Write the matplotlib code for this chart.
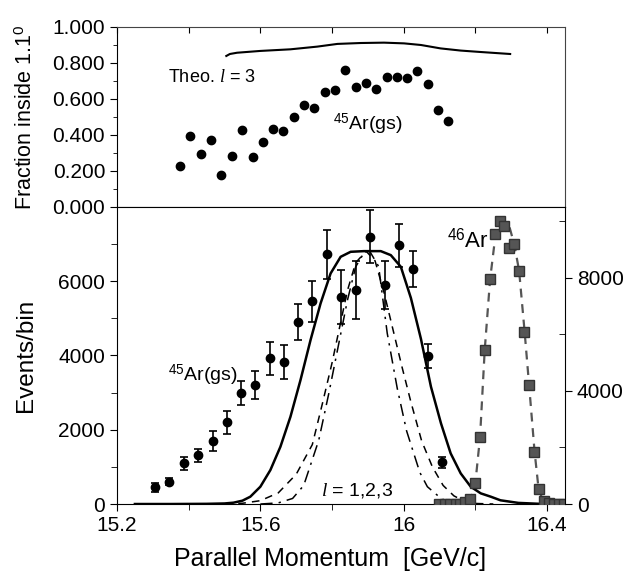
import matplotlib
matplotlib.use('Agg')
import matplotlib.pyplot as plt
from matplotlib.ticker import MultipleLocator, FixedLocator, FuncFormatter

plt.rcParams['font.family'] = ['Liberation Sans', 'DejaVu Sans']
plt.rcParams['mathtext.fontset'] = 'custom'
plt.rcParams['mathtext.rm'] = 'Liberation Sans'
plt.rcParams['mathtext.it'] = 'Liberation Serif:italic'

# --- top panel: fraction inside 1.1 deg ---
frac_x = [15.376, 15.405, 15.434, 15.463, 15.491, 15.520, 15.550, 15.579, 15.608,
          15.636, 15.664, 15.693, 15.721, 15.750, 15.779, 15.807, 15.837, 15.866,
          15.894, 15.923, 15.952, 15.980, 16.009, 16.038, 16.067, 16.096, 16.124]
frac_y = [0.229, 0.393, 0.293, 0.370, 0.178, 0.285, 0.426, 0.276, 0.363,
          0.433, 0.420, 0.500, 0.565, 0.548, 0.641, 0.650, 0.761, 0.668,
          0.687, 0.656, 0.724, 0.724, 0.719, 0.757, 0.683, 0.541, 0.476]
theo_frac_x = [15.505, 15.515, 15.535, 15.600, 15.684, 15.759, 15.815, 15.880,
               15.945, 16.001, 16.048, 16.103, 16.159, 16.215, 16.297]
theo_frac_y = [0.839, 0.850, 0.857, 0.867, 0.876, 0.891, 0.906, 0.911,
               0.913, 0.909, 0.900, 0.881, 0.869, 0.861, 0.850]

# --- bottom panel: 45Ar(gs) momentum distribution ---
ar45_x = [15.306, 15.346, 15.387, 15.427, 15.468, 15.507, 15.547, 15.586, 15.627,
          15.666, 15.706, 15.745, 15.786, 15.826, 15.867, 15.907, 15.947, 15.988,
          16.027, 16.067, 16.107]
ar45_y = [450, 600, 1095, 1310, 1696, 2198, 2997, 3195, 3922, 3831, 4899, 5456,
          6721, 5581, 5760, 7196, 5895, 6963, 6334, 3992, 1122]
ar45_err = [125, 100, 170, 180, 270, 320, 320, 380, 435, 465, 490, 555, 650,
            727, 785, 718, 637, 588, 480, 320, 140]

# theory curves l = 3 (solid), l = 2 (dashed), l = 1 (dash-dot)
l3_x = [15.25, 15.35, 15.45, 15.50, 15.525, 15.55, 15.572, 15.600, 15.628, 15.656,
        15.684, 15.712, 15.740, 15.768, 15.796, 15.824, 15.852, 15.889, 15.936,
        15.964, 15.992, 16.020, 16.048, 16.076, 16.104, 16.131, 16.159, 16.187,
        16.215, 16.243, 16.27, 16.32, 16.38, 16.45]
l3_y = [0, 0, 5, 15, 36, 90, 197, 466, 915, 1543, 2351, 3338, 4415, 5402, 6210,
        6658, 6793, 6811, 6811, 6703, 6389, 5550, 4450, 3159, 2172, 1364, 825,
        466, 287, 197, 100, 30, 5, 0]
l2_x = [15.50, 15.55, 15.60, 15.65, 15.70, 15.745, 15.773, 15.80, 15.822, 15.843,
        15.866, 15.895, 15.92, 15.945, 15.97, 15.995, 16.02, 16.05, 16.08, 16.11,
        16.14, 16.17, 16.20, 16.25]
l2_y = [0, 20, 90, 300, 800, 1600, 2700, 3800, 4800, 5750, 6500, 6810, 6550,
        5700, 4700, 3700, 2750, 1700, 1000, 500, 220, 70, 15, 0]
l1_x = [15.60, 15.65, 15.69, 15.721, 15.763, 15.791, 15.819, 15.843, 15.866,
        15.89, 15.905, 15.93, 15.954, 15.982, 16.008, 16.045, 16.066, 16.104,
        16.131, 16.16]
l1_y = [0, 30, 150, 500, 1720, 2980, 4330, 5490, 6390, 6780, 6810, 6400, 4600,
        3114, 1970, 850, 466, 152, 18, 0]

# --- 46Ar unreacted beam (right axis) ---
ar46_x = [16.099, 16.115, 16.130, 16.146, 16.158, 16.172, 16.185, 16.199, 16.213,
          16.226, 16.240, 16.254, 16.268, 16.281, 16.295, 16.309, 16.322, 16.336,
          16.350, 16.364, 16.377, 16.391, 16.405, 16.419, 16.432, 16.446]
ar46_y = [0, 0, 0, 0, 10, 60, 190, 754, 2372, 5440, 7941, 9546, 9994, 9841, 9050,
          9180, 8224, 6088, 4212, 1852, 520, 100, 30, 10, 0, 0]
ar46_fit_x = [16.185, 16.200, 16.213, 16.226, 16.241, 16.255, 16.268, 16.282,
              16.296, 16.309, 16.322, 16.337, 16.350, 16.365, 16.376, 16.390]
ar46_fit_y = [50, 754, 2372, 5440, 7941, 9400, 9950, 10000, 9750, 9150, 8240,
              6140, 4180, 1870, 570, 50]

FS = 15      # tick labels
TFS = 14     # in-plot text

fig = plt.figure(figsize=(6.31, 5.78), dpi=100)
ax_top = fig.add_axes([0.1854, 0.6419, 0.7100, 0.3114])
ax_bot = fig.add_axes([0.1854, 0.1280, 0.7100, 0.5139])
ax_r = ax_bot.twinx()

# top panel
ax_top.plot(theo_frac_x, theo_frac_y, color='black', lw=1.5)
ax_top.plot(frac_x, frac_y, 'o', color='black', ms=6)
ax_top.set_xlim(15.2, 16.45)
ax_top.set_ylim(0, 1.0)
ax_top.yaxis.set_major_locator(MultipleLocator(0.2))
ax_top.yaxis.set_minor_locator(MultipleLocator(0.1))
ax_top.yaxis.set_major_formatter(FuncFormatter(lambda v, p: f'{v:.3f}'))
ax_top.xaxis.set_major_locator(MultipleLocator(0.2))
ax_top.tick_params(axis='x', which='both', bottom=False, top=True, labelbottom=False,
                   direction='in', length=4)
ax_top.tick_params(axis='y', which='major', direction='out', length=5, labelsize=FS)
ax_top.tick_params(axis='y', which='minor', direction='out', length=3)
ax_top.spines['top'].set_color('#444444')
ax_top.spines['right'].set_color('#444444')
ax_top.set_ylabel('Fraction inside 1.1$^0$', fontsize=15.5)
ax_top.yaxis.set_label_coords(-0.178, 0.5)
ax_top.text(15.343, 0.694, 'Theo. $\\mathit{l}$ = 3', fontsize=TFS - 1)
ax_top.text(15.804, 0.428, '$^{45}$Ar(gs)', fontsize=TFS)

# bottom panel
ax_bot.plot(l3_x, l3_y, color='black', lw=1.8)
ax_bot.plot(l2_x, l2_y, color='black', lw=1.1, dashes=(5, 4))
ax_bot.plot(l1_x, l1_y, color='black', lw=1.1, dashes=(8, 4, 1.5, 4))
ax_bot.errorbar(ar45_x, ar45_y, yerr=ar45_err, fmt='o', color='black', ms=6,
                capsize=3, elinewidth=1.2, capthick=1.2)
ax_bot.set_xlim(15.2, 16.45)
ax_bot.set_ylim(0, 8000)
ax_bot.yaxis.set_major_locator(FixedLocator([0, 2000, 4000, 6000]))
ax_bot.yaxis.set_minor_locator(FixedLocator([1000, 3000, 5000, 7000]))
ax_bot.xaxis.set_major_locator(MultipleLocator(0.4))
ax_bot.xaxis.set_minor_locator(MultipleLocator(0.2))
ax_bot.xaxis.set_major_formatter(FuncFormatter(lambda v, p: f'{v:g}'))
ax_bot.tick_params(which='major', direction='out', length=5, labelsize=FS)
ax_bot.tick_params(which='minor', direction='out', length=4)
ax_bot.spines['right'].set_visible(False)
ax_bot.set_ylabel('Events/bin', fontsize=17.5)
ax_bot.yaxis.set_label_coords(-0.178, 0.5)
ax_bot.set_xlabel('Parallel Momentum  [GeV/c]', fontsize=18)
ax_bot.xaxis.set_label_coords(0.475, -0.145)
ax_bot.text(15.343, 3311, '$^{45}$Ar(gs)', fontsize=TFS)
ax_bot.text(16.12, 6918, '$^{46}$Ar', fontsize=TFS + 2)
ax_bot.text(15.768, 242, '$\\mathit{l}$ = 1,2,3', fontsize=TFS)

# right axis for 46Ar
ax_r.plot(ar46_fit_x, ar46_fit_y, color='#555555', lw=1.6, dashes=(4, 3))
ax_r.plot(ar46_x, ar46_y, 's', color='#555555', mec='#333333', ms=6.5)
ax_r.set_ylim(0, 10500)
ax_r.yaxis.set_major_locator(FixedLocator([0, 4000, 8000]))
ax_r.yaxis.set_minor_locator(FixedLocator([2000, 6000, 10000]))
ax_r.tick_params(which='major', direction='out', length=5, labelsize=FS)
ax_r.tick_params(which='minor', direction='in', length=4)
for s in ['top', 'left', 'bottom']:
    ax_r.spines[s].set_visible(False)

fig.savefig('out.png', dpi=100)
